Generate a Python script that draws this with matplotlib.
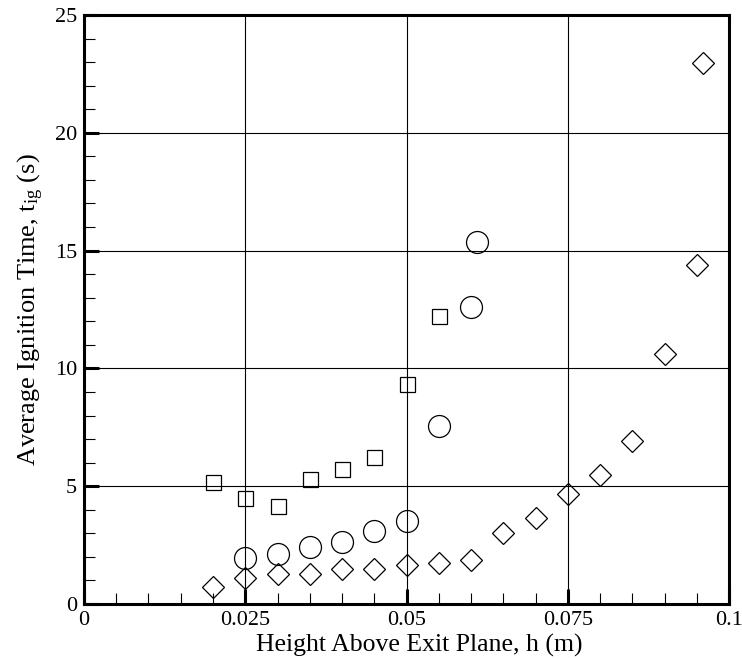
import matplotlib
matplotlib.use("Agg")
import matplotlib.pyplot as plt
from matplotlib.ticker import MultipleLocator, FuncFormatter

# data
h_square = [0.02, 0.025, 0.03, 0.035, 0.04, 0.045, 0.05, 0.055]
t_square = [5.18, 4.5, 4.16, 5.3, 5.73, 6.24, 9.34, 12.24]

h_circle = [0.025, 0.03, 0.035, 0.04, 0.045, 0.05, 0.055, 0.06, 0.061]
t_circle = [1.95, 2.12, 2.42, 2.63, 3.1, 3.52, 7.55, 12.6, 15.37]

h_diamond = [0.02, 0.025, 0.03, 0.035, 0.04, 0.045, 0.05, 0.055, 0.06,
             0.065, 0.07, 0.075, 0.08, 0.085, 0.09, 0.095, 0.096]
t_diamond = [0.72, 1.09, 1.26, 1.26, 1.47, 1.50, 1.65, 1.74, 1.87,
             3.0, 3.65, 4.65, 5.48, 6.9, 10.6, 14.39, 22.96]

x_ticks = [0, 0.025, 0.05, 0.075, 0.1]
y_ticks = [0, 5, 10, 15, 20, 25]

plt.rcParams["font.family"] = "Liberation Serif"
plt.rcParams["mathtext.fontset"] = "custom"
plt.rcParams["mathtext.rm"] = "Liberation Serif"
plt.rcParams["mathtext.it"] = "Liberation Serif"

fig = plt.figure(figsize=(7.42, 6.59), dpi=100)
ax = fig.add_axes([0.1132, 0.0835, 0.8693, 0.8937])

ax.plot(h_square, t_square, linestyle="none", marker="s", markersize=10.8,
        markerfacecolor="none", markeredgecolor="black", markeredgewidth=0.9)
ax.plot(h_circle, t_circle, linestyle="none", marker="o", markersize=15.8,
        markerfacecolor="none", markeredgecolor="black", markeredgewidth=0.9)
ax.plot(h_diamond, t_diamond, linestyle="none", marker="D", markersize=11.2,
        markerfacecolor="none", markeredgecolor="black", markeredgewidth=0.9)

ax.set_xlim(0, 0.1)
ax.set_ylim(0, 25)
ax.set_xticks(x_ticks)
ax.set_yticks(y_ticks)
ax.xaxis.set_minor_locator(MultipleLocator(0.005))
ax.yaxis.set_minor_locator(MultipleLocator(1))
fmt = FuncFormatter(lambda v, p: "%g" % round(v, 4))
ax.xaxis.set_major_formatter(fmt)
ax.yaxis.set_major_formatter(fmt)

ax.tick_params(which="major", direction="in", length=11, width=2.2,
               labelsize=16, pad=5, top=False, right=False)
ax.tick_params(which="minor", direction="in", length=8, width=0.8,
               top=False, right=False)

ax.grid(True, which="major", color="black", linewidth=0.8)
ax.set_axisbelow(True)
for s in ax.spines.values():
    s.set_linewidth(2.2)

ax.set_xlabel("Height Above Exit Plane, h (m)", fontsize=18.5, labelpad=3,
              x=0.519)
ax.set_ylabel("Average Ignition Time, t$_{\\mathrm{ig}}$ (s)", fontsize=19,
              labelpad=6)

fig.savefig("out.png", dpi=100)
